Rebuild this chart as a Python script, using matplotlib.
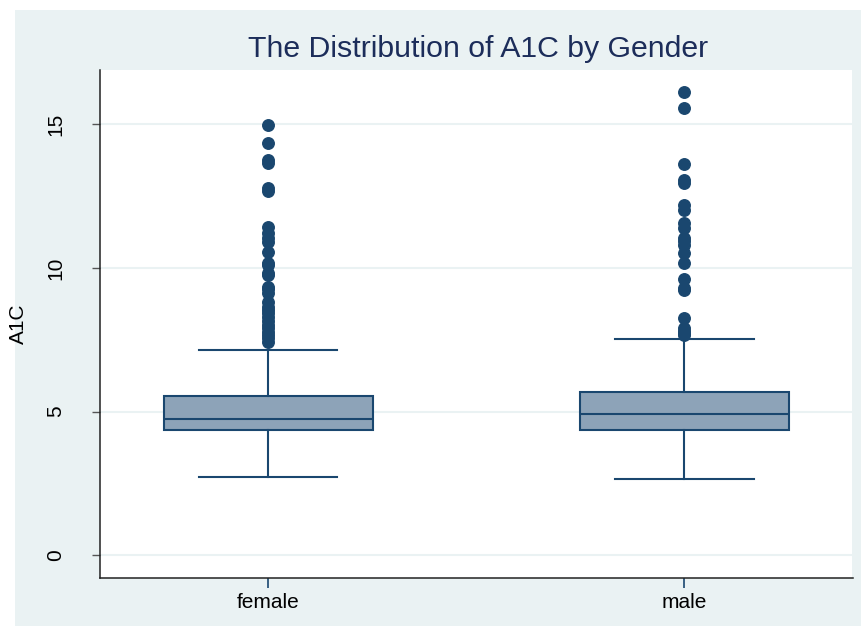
import matplotlib
matplotlib.use("Agg")
import matplotlib.pyplot as plt
from matplotlib.patches import Rectangle

# Summary statistics of A1C by gender
categories = ["female", "male"]
medians = [4.73, 4.90]
q1s = [4.37, 4.37]
q3s = [5.55, 5.67]
whisker_lo = [2.71, 2.66]
whisker_hi = [7.13, 7.52]

female_outliers = [7.42, 7.55, 7.65, 7.77, 7.9, 8.0, 8.15, 8.3, 8.42, 8.53, 8.65, 8.82,
                   9.12, 9.25, 9.34, 9.75, 9.83, 10.1, 10.17, 10.56, 10.9, 11.05, 11.2,
                   11.43, 12.68, 12.78, 13.65, 13.75, 14.33, 14.97]
male_outliers = [7.68, 7.72, 7.8, 7.89, 8.24, 9.22, 9.3, 9.6, 10.17, 10.5, 10.8, 10.93,
                 11.05, 11.4, 11.57, 12.02, 12.18, 12.95, 13.05, 13.6, 15.55, 16.1]
outliers = [female_outliers, male_outliers]

y_ticks = [0, 5, 10, 15]

navy = "#1A476F"
box_fill = "#8DA3B8"
panel = "#EAF2F3"

fig = plt.figure(figsize=(8.62, 6.26), dpi=100, facecolor="white")
fig.patches.append(Rectangle((15 / 862, 0), 1 - 15 / 862, 1 - 10 / 626,
                             transform=fig.transFigure, facecolor=panel,
                             edgecolor="none", zorder=-10))

ax = fig.add_axes([100 / 862, 1 - 577.5 / 626, 752.5 / 862, 507.5 / 626])
ax.set_facecolor("white")

stats = []
for i, name in enumerate(categories):
    stats.append(dict(label=name, med=medians[i], q1=q1s[i], q3=q3s[i],
                      whislo=whisker_lo[i], whishi=whisker_hi[i],
                      fliers=outliers[i]))

ax.bxp(stats, positions=range(len(categories)), widths=0.502, patch_artist=True,
       showfliers=True, capwidths=0.333,
       boxprops=dict(facecolor=box_fill, edgecolor=navy, linewidth=1.5),
       medianprops=dict(color=navy, linewidth=1.5),
       whiskerprops=dict(color=navy, linewidth=1.5),
       capprops=dict(color=navy, linewidth=1.5),
       flierprops=dict(marker="o", markerfacecolor=navy, markeredgecolor=navy,
                       markersize=8.3, linestyle="none"))

ax.set_xlim(-0.404, 1.404)
ax.set_ylim(-0.77, 16.88)
ax.set_yticks(y_ticks)
ax.set_yticklabels([str(t) for t in y_ticks], rotation=90, va="center")
ax.yaxis.grid(True, color=panel, linewidth=1.5)
ax.set_axisbelow(True)

font = ["Liberation Sans", "DejaVu Sans"]
for lab in ax.get_yticklabels() + ax.get_xticklabels():
    lab.set_fontfamily(font)
    lab.set_fontsize(15)
ax.tick_params(axis="y", length=6, width=1, color="#555555", pad=19)
ax.tick_params(axis="x", length=7, width=1.2, color=navy, pad=4)

for side in ["top", "right"]:
    ax.spines[side].set_visible(False)
for side in ["left", "bottom"]:
    ax.spines[side].set_color("#222222")
    ax.spines[side].set_linewidth(1.1)

ax.set_ylabel("A1C", fontsize=15, family=font, labelpad=13)
fig.text(478 / 862, 1 - 49 / 626, "The Distribution of A1C by Gender",
         ha="center", va="center", fontsize=21.8, color="#1C2D5A", family=font)

fig.savefig("out.png", dpi=100, facecolor=fig.get_facecolor())
